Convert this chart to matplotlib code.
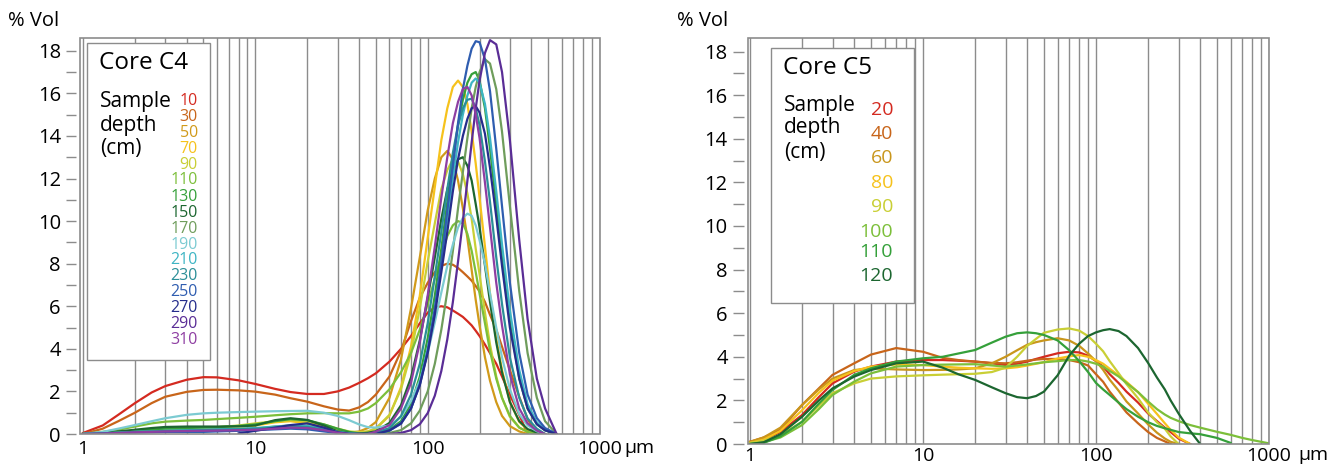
import numpy as np
import matplotlib.pyplot as plt
from matplotlib.patches import Rectangle
from matplotlib.ticker import FixedLocator, NullFormatter

plt.rcParams['font.family'] = ['Open Sans', 'DejaVu Sans']

nan = np.nan

# ---- Core C4: grain size (um) vs % volume, one list per sample depth ----
sizes_c4 = [1, 1.3, 1.6, 2, 2.5, 3, 4, 5, 6, 8, 10, 13, 16, 20, 25, 30, 35, 40, 45, 50,
            60, 70, 80, 90, 100, 110, 120, 130, 140, 150, 160, 170, 180, 190, 200,
            215, 230, 250, 270, 300, 340, 380, 430, 480, 560]

c4_10 = [0.05, 0.4, 0.9, 1.45, 1.95, 2.25, 2.55, 2.67, 2.66, 2.52, 2.35, 2.12, 1.97, 1.88, 1.88, 2.0, 2.18, 2.4, 2.62, 2.85,
         3.4, 4.0, 4.6, 5.2, 5.7, 5.95, 6.0, 5.95, 5.8, 5.65, 5.5, 5.3, 5.1, 4.85, 4.6,
         4.2, 3.8, 3.3, 2.7, 1.85, 0.9, 0.0, nan, nan, nan]
c4_30 = [0.0, 0.25, 0.6, 1.0, 1.45, 1.75, 1.98, 2.07, 2.08, 2.05, 1.99, 1.85, 1.68, 1.52, 1.3, 1.15, 1.1, 1.25, 1.5, 1.85,
         2.7, 3.9, 5.3, 6.4, 7.1, 7.6, 7.9, 8.0, 7.95, 7.8, 7.6, 7.4, 7.2, 6.95, 6.7,
         6.2, 5.6, 4.9, 4.1, 3.0, 1.75, 0.7, 0.0, nan, nan]
c4_50 = [0, 0.05, 0.1, 0.15, 0.2, 0.2, 0.2, 0.2, 0.25, 0.35, 0.45, 0.6, 0.65, 0.55, 0.35, 0.15, 0.05, 0.12, 0.28, 0.56,
         1.7, 3.5, 5.9, 8.3, 10.5, 12.0, 13.0, 13.3, 12.9, 11.9, 10.6, 9.2, 7.7, 6.3, 5.1,
         3.6, 2.5, 1.5, 0.85, 0.37, 0.12, 0.0, nan, nan, nan]
c4_70 = [0, 0.05, 0.1, 0.12, 0.15, 0.15, 0.15, 0.15, 0.2, 0.3, 0.4, 0.55, 0.6, 0.5, 0.3, 0.1, 0.02, 0.04, 0.12, 0.25,
         0.86, 2.2, 4.1, 6.5, 9.2, 11.6, 13.8, 15.3, 16.3, 16.6, 16.3, 15.5, 14.2, 12.7, 11.1,
         8.8, 6.6, 4.5, 3.0, 1.5, 0.57, 0.2, 0.0, nan, nan]
c4_90 = [0, 0.05, 0.1, 0.15, 0.2, 0.25, 0.28, 0.3, 0.32, 0.4, 0.5, 0.6, 0.65, 0.6, 0.45, 0.25, 0.12, 0.09, 0.12, 0.26,
         0.9, 2.1, 3.8, 5.9, 8.1, 9.9, 11.5, 12.4, 12.9, 12.8, 12.2, 11.3, 10.1, 8.7, 7.5,
         5.7, 4.2, 2.7, 1.7, 0.8, 0.3, 0.1, 0.0, nan, nan]
c4_110 = [0, 0.1, 0.2, 0.35, 0.5, 0.58, 0.63, 0.66, 0.7, 0.76, 0.81, 0.88, 0.93, 0.97, 0.98, 0.97, 0.97, 1.05, 1.2, 1.45,
          2.1, 2.9, 3.8, 4.9, 6.1, 7.3, 8.4, 9.3, 9.8, 10.0, 9.9, 9.4, 8.6, 7.6, 6.6,
          5.2, 3.9, 2.6, 1.7, 0.85, 0.3, 0.1, 0.0, nan, nan]
c4_130 = [0, 0.05, 0.1, 0.15, 0.2, 0.25, 0.28, 0.3, 0.32, 0.38, 0.45, 0.6, 0.7, 0.65, 0.45, 0.25, 0.1, 0.03, 0.02, 0.05,
          0.2, 0.6, 1.4, 2.7, 4.5, 6.5, 8.7, 10.9, 12.8, 14.5, 15.7, 16.5, 16.9, 17.0, 16.6,
          15.3, 13.4, 10.8, 8.3, 5.3, 2.6, 1.2, 0.46, 0.17, 0.0]
c4_150 = [0, 0.05, 0.12, 0.2, 0.28, 0.33, 0.35, 0.35, 0.35, 0.36, 0.4, 0.65, 0.74, 0.66, 0.4, 0.12, 0.05, 0.02, 0.06, 0.13,
          0.52, 1.35, 2.65, 4.4, 6.4, 8.3, 10.1, 11.5, 12.4, 12.9, 13.0, 12.6, 11.9, 10.8, 9.7,
          7.9, 6.2, 4.3, 2.9, 1.5, 0.6, 0.23, 0.07, 0.0, nan]
c4_170 = [0, 0.03, 0.06, 0.1, 0.12, 0.15, 0.15, 0.15, 0.17, 0.2, 0.25, 0.35, 0.4, 0.35, 0.2, 0.08, 0.02, 0.0, 0.0, 0.0,
          0.05, 0.18, 0.5, 1.1, 2.0, 3.3, 4.9, 6.7, 8.6, 10.6, 12.3, 13.9, 15.3, 16.3, 17.0,
          17.6, 17.4, 16.2, 14.2, 10.7, 6.7, 3.8, 1.7, 0.6, 0.0]
c4_190 = [0, 0.1, 0.25, 0.42, 0.6, 0.74, 0.9, 0.97, 1.0, 1.03, 1.05, 1.07, 1.08, 1.09, 1.0, 0.85, 0.65, 0.45, 0.32, 0.3,
          0.4, 0.8, 1.55, 2.5, 3.8, 5.25, 6.65, 7.9, 8.9, 9.7, 10.15, 10.35, 10.25, 9.8, 9.1,
          8.0, 6.6, 5.0, 3.6, 2.1, 0.93, 0.4, 0.13, 0.0, nan]
c4_210 = [0, 0.03, 0.06, 0.1, 0.12, 0.15, 0.18, 0.2, 0.22, 0.25, 0.28, 0.35, 0.4, 0.38, 0.25, 0.1, 0.03, 0.0, 0.0, 0.03,
          0.16, 0.52, 1.2, 2.4, 4.0, 5.8, 8.0, 10.1, 12.0, 13.7, 15.0, 15.9, 16.5, 16.7, 16.5,
          15.5, 13.9, 11.4, 8.9, 5.8, 3.0, 1.4, 0.55, 0.2, 0.0]
c4_230 = [0, 0.03, 0.06, 0.1, 0.12, 0.14, 0.16, 0.18, 0.2, 0.22, 0.25, 0.3, 0.35, 0.33, 0.2, 0.08, 0.02, 0.0, 0.0, 0.07,
          0.28, 0.84, 1.85, 3.3, 5.2, 7.4, 9.5, 11.5, 13.2, 14.5, 15.3, 15.7, 15.75, 15.3, 14.5,
          12.8, 10.9, 8.3, 6.1, 3.6, 1.7, 0.73, 0.25, 0.0, nan]
c4_250 = [0, 0.02, 0.04, 0.06, 0.08, 0.1, 0.1, 0.1, 0.12, 0.15, 0.18, 0.22, 0.25, 0.22, 0.12, 0.05, 0.0, 0.0, 0.0, 0.0,
          0.16, 0.48, 1.2, 2.3, 3.9, 5.9, 8.1, 10.5, 12.6, 14.6, 16.2, 17.3, 18.1, 18.45, 18.4,
          17.6, 16.1, 13.4, 10.7, 7.1, 3.8, 1.85, 0.75, 0.28, 0.0]
c4_270 = [nan, nan, nan, nan, nan, nan, nan, nan, nan, 0.03, 0.15, 0.3, 0.42, 0.5, 0.3, 0.08, 0.0, 0.0, 0.0, 0.0,
          0.17, 0.5, 1.2, 2.3, 3.8, 5.6, 7.6, 9.5, 11.4, 12.9, 14.0, 14.8, 15.3, 15.4, 15.1,
          14.1, 12.5, 10.2, 7.9, 5.0, 2.6, 1.2, 0.46, 0.17, 0.0]
c4_290 = [nan, nan, nan, nan, nan, nan, nan, nan, nan, nan, nan, nan, nan, nan, nan, nan, nan, nan, nan, nan,
          0.0, 0.05, 0.18, 0.46, 0.98, 1.8, 2.96, 4.45, 6.2, 8.1, 10.0, 11.9, 13.7, 15.3, 16.6,
          17.9, 18.5, 18.3, 17.0, 13.8, 9.1, 5.4, 2.6, 1.2, 0.0]
c4_310 = [0, 0.02, 0.05, 0.08, 0.1, 0.12, 0.14, 0.15, 0.16, 0.18, 0.2, 0.25, 0.3, 0.28, 0.18, 0.06, 0.0, 0.0, 0.0, 0.11,
          0.42, 1.2, 2.4, 4.3, 6.5, 8.8, 11.1, 13.0, 14.6, 15.6, 16.2, 16.3, 15.9, 15.0, 13.9,
          11.8, 9.7, 7.1, 5.1, 2.8, 1.2, 0.5, 0.16, 0.0, nan]

depths_c4 = ['10', '30', '50', '70', '90', '110', '130', '150', '170',
             '190', '210', '230', '250', '270', '290', '310']
series_c4 = [c4_10, c4_30, c4_50, c4_70, c4_90, c4_110, c4_130, c4_150, c4_170,
             c4_190, c4_210, c4_230, c4_250, c4_270, c4_290, c4_310]
colors_c4 = ['#d42a20', '#c8651a', '#d19a1a', '#f6c21c', '#c9cf35', '#7cbf3a', '#35a03a', '#1c6630',
             '#6f9d5c', '#7ccbd2', '#3eb5c4', '#2b8f98', '#2f5db0', '#252d8c', '#5a2d96', '#8e3ea2']

# ---- Core C5 ----
sizes_c5 = [1, 1.2, 1.5, 2, 2.5, 3, 4, 5, 7, 10, 13, 16, 20, 25, 30, 35, 40, 45, 50, 60,
            70, 80, 90, 100, 110, 120, 135, 150, 175, 200, 225, 250, 270, 300, 350, 400, 500, 600, 700, 800, 1000]

c5_20 = [0.1, 0.2, 0.55, 1.33, 2.15, 2.78, 3.32, 3.55, 3.78, 3.85, 3.85, 3.82, 3.78, 3.7, 3.62, 3.68, 3.78, 3.9, 4.0, 4.16,
         4.23, 4.2, 4.05, 3.8, 3.55, 3.2, 2.8, 2.4, 1.9, 1.4, 1.05, 0.75, 0.55, 0.25, 0.0, nan, nan, nan, nan, nan, nan]
c5_40 = [0.1, 0.3, 0.65, 1.79, 2.55, 3.17, 3.7, 4.1, 4.4, 4.23, 3.95, 3.85, 3.78, 3.72, 3.7, 3.75, 3.82, 3.87, 3.9, 3.9,
         3.85, 3.75, 3.6, 3.2, 2.85, 2.4, 1.9, 1.45, 0.95, 0.55, 0.28, 0.12, 0.0, nan, nan, nan, nan, nan, nan, nan, nan]
c5_60 = [0.1, 0.3, 0.75, 1.79, 2.5, 3.0, 3.39, 3.47, 3.42, 3.39, 3.4, 3.42, 3.47, 3.7, 4.0, 4.3, 4.55, 4.67, 4.75, 4.85,
         4.75, 4.5, 4.15, 3.8, 3.4, 2.95, 2.45, 1.95, 1.4, 0.9, 0.52, 0.25, 0.1, 0.0, nan, nan, nan, nan, nan, nan, nan]
c5_80 = [0.05, 0.2, 0.6, 1.55, 2.35, 2.9, 3.35, 3.55, 3.65, 3.62, 3.55, 3.5, 3.47, 3.45, 3.47, 3.52, 3.6, 3.68, 3.75, 3.92,
         4.02, 4.08, 4.0, 3.85, 3.68, 3.45, 3.15, 2.85, 2.38, 1.85, 1.38, 0.95, 0.65, 0.3, 0.0, nan, nan, nan, nan, nan, nan]
c5_90 = [0.05, 0.15, 0.4, 1.02, 1.75, 2.33, 2.78, 3.0, 3.1, 3.15, 3.18, 3.2, 3.22, 3.3, 3.5, 4.0, 4.5, 4.82, 5.1, 5.25,
         5.3, 5.2, 4.95, 4.6, 4.25, 3.8, 3.25, 2.75, 2.1, 1.45, 1.0, 0.7, 0.35, 0.0, nan, nan, nan, nan, nan, nan, nan]
c5_100 = [0.0, 0.08, 0.3, 0.87, 1.6, 2.25, 2.86, 3.24, 3.55, 3.62, 3.64, 3.65, 3.66, 3.6, 3.55, 3.6, 3.65, 3.7, 3.75, 3.8,
          3.85, 3.85, 3.78, 3.68, 3.55, 3.35, 3.1, 2.8, 2.38, 1.95, 1.6, 1.35, 1.2, 1.05, 0.87, 0.75, 0.56, 0.42, 0.28, 0.18, 0.03]
c5_110 = [0.0, 0.05, 0.35, 1.02, 1.85, 2.48, 3.17, 3.47, 3.78, 3.93, 4.0, 4.15, 4.31, 4.65, 4.92, 5.08, 5.12, 5.08, 5.0, 4.75,
          4.3, 3.8, 3.3, 2.8, 2.5, 2.25, 1.9, 1.6, 1.25, 1.0, 0.83, 0.72, 0.65, 0.55, 0.49, 0.45, 0.28, 0.05, nan, nan, nan]
c5_120 = [0.0, 0.08, 0.45, 1.25, 2.0, 2.55, 3.09, 3.39, 3.7, 3.78, 3.5, 3.2, 2.94, 2.6, 2.33, 2.15, 2.1, 2.2, 2.4, 3.15,
          4.05, 4.6, 4.95, 5.12, 5.22, 5.27, 5.18, 4.95, 4.4, 3.72, 3.05, 2.5, 2.0, 1.4, 0.6, 0.0, nan, nan, nan, nan, nan]

depths_c5 = ['20', '40', '60', '80', '90', '100', '110', '120']
series_c5 = [c5_20, c5_40, c5_60, c5_80, c5_90, c5_100, c5_110, c5_120]
colors_c5 = ['#d42a20', '#c8651a', '#c9961c', '#f6c21c', '#c9cf35', '#7cbf3a', '#35a03a', '#1c6630']

grid_col = '#8c8c8c'
W, H = 1344, 466


def style_panel(ax, xmin, ymax, tick_len, xpad):
    ax.set_xscale('log')
    ax.set_xlim(xmin, 1000)
    ax.set_ylim(0, ymax)
    ax.xaxis.set_major_locator(FixedLocator([1, 10, 100, 1000]))
    ax.xaxis.set_minor_locator(FixedLocator([m * 10 ** e for e in range(3) for m in range(2, 10)]))
    ax.xaxis.set_minor_formatter(NullFormatter())
    ax.set_xticklabels(['1', '10', '100', '1000'])
    ax.yaxis.set_major_locator(FixedLocator(range(0, 19, 2)))
    ax.yaxis.set_minor_locator(FixedLocator(range(1, 19, 2)))
    ax.grid(True, axis='x', which='both', color=grid_col, lw=1.0, zorder=1)
    ax.set_axisbelow(True)
    ax.tick_params(axis='x', which='both', length=0, labelsize=14, pad=xpad)
    ax.tick_params(axis='y', which='both', direction='out', length=tick_len, width=1.0,
                   color=grid_col, labelsize=14.5, pad=3.6)
    ax.spines['left'].set_position(('outward', 3))
    for s in ax.spines.values():
        s.set_visible(False)
    ax.add_patch(Rectangle((0, 0), 1, 1, transform=ax.transAxes, fill=False,
                           ec=grid_col, lw=1.2, zorder=5, clip_on=False))


fig = plt.figure(figsize=(W / 100, H / 100), dpi=100)

# left panel, C4
ax1 = fig.add_axes([80 / W, 32 / H, 520 / W, 396 / H])
style_panel(ax1, 0.96, 18.6, 7.2, 4)
for vals, c in zip(series_c4, colors_c4):
    ax1.plot(sizes_c4, vals, color=c, lw=1.6, zorder=3)

ax1.add_patch(Rectangle((7 / 520, 74 / 396), 123 / 520, 317 / 396, transform=ax1.transAxes,
                        fc='white', ec=grid_col, lw=1.0, zorder=4))
ax1.text(19 / 520, (434 - 63) / 396, 'Core C4', transform=ax1.transAxes, fontsize=17.5,
         va='center', ha='left', zorder=6)
for lab, yy in zip(['Sample', 'depth', '(cm)'], [101, 125, 148]):
    ax1.text(20 / 520, (434 - yy) / 396, lab, transform=ax1.transAxes, fontsize=15,
             va='center', ha='left', zorder=6)
for i, (d, c) in enumerate(zip(depths_c4, colors_c4)):
    ax1.text(118 / 520, (434 - (100.5 + 16 * i)) / 396, d, transform=ax1.transAxes,
             fontsize=11.5, color=c, va='center', ha='right', zorder=6)

fig.text(8 / W, 1 - 21 / H, '% Vol', fontsize=14.5, va='center', ha='left')
fig.text(624 / W, 1 - 448 / H, 'µm', fontsize=14, va='center', ha='left')

# right panel, C5
ax2 = fig.add_axes([748 / W, 22 / H, 521 / W, 406 / H])
style_panel(ax2, 0.974, 18.62, 8.0, 2)
for vals, c in zip(series_c5, colors_c5):
    ax2.plot(sizes_c5, vals, color=c, lw=1.6, zorder=3)

ax2.add_patch(Rectangle((23 / 521, 141 / 406), 143 / 521, 255 / 406, transform=ax2.transAxes,
                        fc='white', ec=grid_col, lw=1.0, zorder=4))
ax2.text(35 / 521, (444 - 68) / 406, 'Core C5', transform=ax2.transAxes, fontsize=17.5,
         va='center', ha='left', zorder=6)
for lab, yy in zip(['Sample', 'depth', '(cm)'], [105, 128, 152]):
    ax2.text(36 / 521, (444 - yy) / 406, lab, transform=ax2.transAxes, fontsize=15,
             va='center', ha='left', zorder=6)
for d, c, yy in zip(depths_c5, colors_c5, [110, 134, 158, 183, 207, 232, 252, 276]):
    ax2.text(145 / 521, (444 - yy) / 406, d, transform=ax2.transAxes,
             fontsize=14, color=c, va='center', ha='right', zorder=6)

fig.text(677 / W, 1 - 21 / H, '% Vol', fontsize=14.5, va='center', ha='left')
fig.text(1298 / W, 1 - 455 / H, 'µm', fontsize=14, va='center', ha='left')

fig.savefig('out.png', dpi=100)
plt.close()
